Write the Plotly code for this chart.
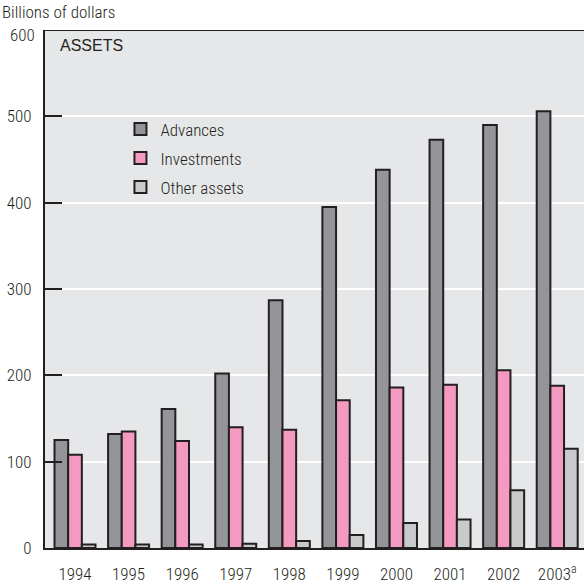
import plotly.graph_objects as go

years = ["1994", "1995", "1996", "1997", "1998", "1999", "2000", "2001", "2002", "2003"]
year_labels = ["1994", "1995", "1996", "1997", "1998", "1999", "2000", "2001", "2002", "2003<sup>a</sup>"]
advances = [125, 132, 161, 202, 287, 395, 438, 473, 490, 506]
investments = [108, 135, 124, 140, 137, 171, 186, 189, 206, 188]
other_assets = [4, 4, 4, 5, 8, 15, 29, 33, 67, 115]
y_ticks = [0, 100, 200, 300, 400, 500, 600]
# the top label sits a little below its gridline so it clears the unit caption
y_ticktext = [str(v) for v in y_ticks[:-1]] + [""]

FONT = "Liberation Sans Narrow, Roboto Condensed, Arial Narrow, Liberation Sans, sans-serif"
INK = "#231f20"

series = [
    ("Advances", advances, "#939598"),
    ("Investments", investments, "#f49ac1"),
    ("Other assets", other_assets, "#c9cacc"),
]

fig = go.Figure()
for name, vals, color in series:
    fig.add_trace(go.Bar(
        x=years, y=vals, name=name, legendgroup=name,
        marker=dict(color=color, line=dict(color=INK, width=2)),
    ))

label_font = dict(family=FONT, size=17, color=INK, weight=300)

fig.update_layout(
    width=584, height=584,
    margin=dict(l=45, r=0, t=30, b=32),
    paper_bgcolor="white",
    plot_bgcolor="#e6e7e9",
    barmode="group",
    bargap=0.235,
    bargroupgap=0,
    font=label_font,
    showlegend=True,
    legend=dict(
        x=0.14, y=0.843, xanchor="left", yanchor="top",
        bgcolor="rgba(0,0,0,0)", tracegroupgap=4,
        font=label_font,
    ),
    xaxis=dict(
        type="category",
        range=[-0.56, 9.5],
        tickvals=years, ticktext=year_labels,
        showgrid=False, ticks="",
        showline=True, linecolor=INK, linewidth=2,
        ticklabelstandoff=10,
        tickfont=label_font,
    ),
    yaxis=dict(
        range=[0, 600],
        tickvals=y_ticks, ticktext=y_ticktext,
        showgrid=True, gridcolor="white", gridwidth=2,
        zeroline=False,
        showline=True, linecolor=INK, linewidth=2,
        ticks="inside", ticklen=17, tickwidth=2, tickcolor=INK,
        ticklabelstandoff=8,
        tickfont=label_font,
    ),
    shapes=[dict(
        type="line", xref="paper", yref="y",
        x0=0, x1=1, y0=600, y1=600,
        line=dict(color=INK, width=2),
    )],
    annotations=[
        dict(text=str(y_ticks[-1]), xref="paper", yref="y",
             x=0, y=y_ticks[-1], xanchor="right", yanchor="middle",
             xshift=-8, yshift=-5,
             showarrow=False, font=label_font),
        dict(text="Billions of dollars", xref="paper", yref="paper",
             x=-45 / 539, y=1 + 18 / 522, xanchor="left", yanchor="middle",
             showarrow=False, font=label_font),
        dict(text="ASSETS", xref="paper", yref="paper",
             x=0.024, y=0.971, xanchor="left", yanchor="middle",
             showarrow=False, font=dict(family="Liberation Sans, Arial, sans-serif", size=16, color=INK)),
    ],
)

fig.write_html("out.html")
